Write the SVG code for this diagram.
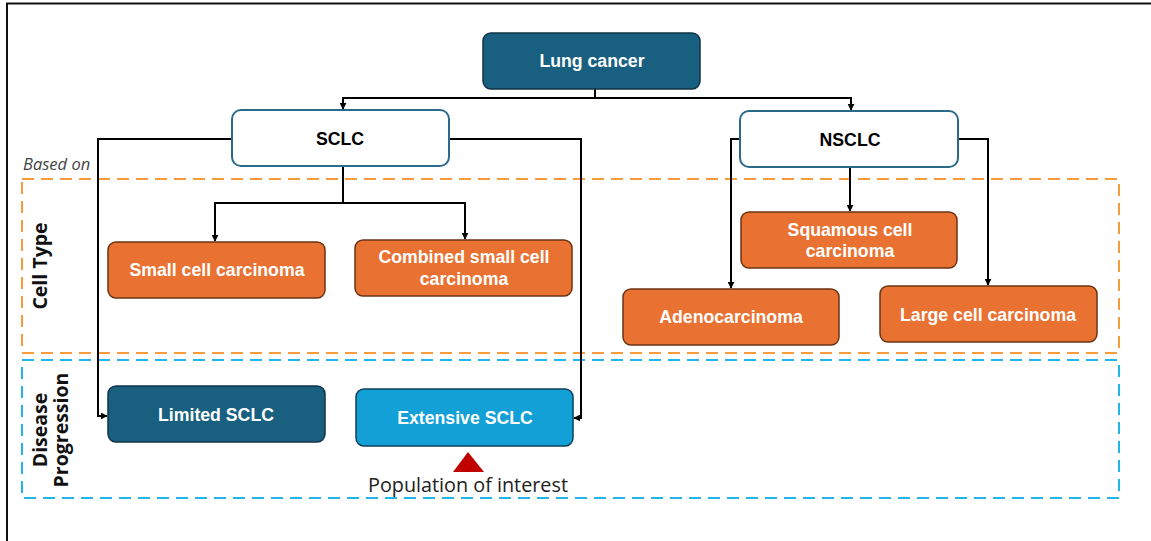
<svg xmlns="http://www.w3.org/2000/svg" width="1151" height="541" viewBox="0 0 1151 541">
  <defs>
    <marker id="arrow" viewBox="0 0 10 10" refX="9" refY="5" markerWidth="7" markerHeight="7" markerUnits="userSpaceOnUse" orient="auto">
      <path d="M0,0 L10,5 L0,10 z" fill="#000"/>
    </marker>
    <style>
      .frame { fill: none; stroke: #111; stroke-width: 2; }
      .band-orange { fill: none; stroke: #f79b3c; stroke-width: 2; stroke-dasharray: 12 7; }
      .band-blue { fill: none; stroke: #22b5ea; stroke-width: 2; stroke-dasharray: 12 7; }
      .dark { fill: #185f80; stroke: #0f3447; stroke-width: 1.5; }
      .outline { fill: #fff; stroke: #2c6a8c; stroke-width: 2; }
      .orange { fill: #e97233; stroke: #6a3414; stroke-width: 1.5; }
      .bright { fill: #12a0d7; stroke: #0c3f58; stroke-width: 1.5; }
      .lbl { font-family: "Liberation Sans", Arial, sans-serif; font-weight: bold; font-size: 17.7px; text-anchor: middle; }
      .w { fill: #fff; }
      .k { fill: #000; }
      .side { font-family: "Open Sans", "Noto Sans", sans-serif; font-weight: bold; font-size: 19.5px; fill: #111; text-anchor: middle; }
      .conn { fill: none; stroke: #000; stroke-width: 2; }
    </style>
  </defs>

  <rect width="1151" height="541" fill="#fff"/>
  <!-- outer frame -->
  <path class="frame" d="M7,545 V3.5 H1155"/>

  <!-- classification bands -->
  <rect class="band-orange" x="22" y="179" width="1097" height="174"/>
  <rect class="band-blue" x="22" y="360" width="1097" height="138"/>
  <text x="23" y="170" font-family="Open Sans, Noto Sans, sans-serif" font-style="italic" font-size="16.5" fill="#444">Based on</text>
  <text class="side" transform="translate(47,266) rotate(-90)">Cell Type</text>
  <text class="side" transform="translate(47,430) rotate(-90)">Disease</text>
  <text class="side" transform="translate(68,430) rotate(-90)">Progression</text>

  <!-- connectors -->
  <g id="connectors">
    <path class="conn" d="M595,89 V98 H343 V109" marker-end="url(#arrow)"/>
    <path class="conn" d="M595,98 H851 V110" marker-end="url(#arrow)"/>
    <path class="conn" d="M343,166 V203 H215 V241" marker-end="url(#arrow)"/>
    <path class="conn" d="M343,203 H465 V239" marker-end="url(#arrow)"/>
    <path class="conn" d="M232,139 H98 V416 H107" marker-end="url(#arrow)"/>
    <path class="conn" d="M449,139 H581 V418 H574" marker-end="url(#arrow)"/>
    <path class="conn" d="M850,167 V211" marker-end="url(#arrow)"/>
    <path class="conn" d="M740,139 H731 V288" marker-end="url(#arrow)"/>
    <path class="conn" d="M958,139 H988 V285" marker-end="url(#arrow)"/>
  </g>

  <!-- nodes -->
  <g id="lung-cancer">
    <rect class="dark" x="483" y="33" width="217" height="56" rx="8"/>
    <text class="lbl w" x="592" y="67">Lung cancer</text>
  </g>
  <g id="sclc">
    <rect class="outline" x="232" y="110" width="217" height="56" rx="9"/>
    <text class="lbl k" x="340" y="145">SCLC</text>
  </g>
  <g id="nsclc">
    <rect class="outline" x="740" y="111" width="218" height="56" rx="9"/>
    <text class="lbl k" x="850" y="146">NSCLC</text>
  </g>
  <g id="small-cell">
    <rect class="orange" x="108" y="242" width="217" height="56" rx="8"/>
    <text class="lbl w" x="217" y="276">Small cell carcinoma</text>
  </g>
  <g id="combined-small-cell">
    <rect class="orange" x="355" y="240" width="217" height="56" rx="8"/>
    <text class="lbl w" x="464" y="263">Combined small cell</text>
    <text class="lbl w" x="464" y="285">carcinoma</text>
  </g>
  <g id="squamous">
    <rect class="orange" x="741" y="212" width="216" height="56" rx="8"/>
    <text class="lbl w" x="850" y="236">Squamous cell</text>
    <text class="lbl w" x="850" y="257">carcinoma</text>
  </g>
  <g id="adenocarcinoma">
    <rect class="orange" x="623" y="289" width="216" height="56" rx="8"/>
    <text class="lbl w" x="731" y="323">Adenocarcinoma</text>
  </g>
  <g id="large-cell">
    <rect class="orange" x="880" y="286" width="217" height="56" rx="8"/>
    <text class="lbl w" x="988" y="321">Large cell carcinoma</text>
  </g>
  <g id="limited-sclc">
    <rect class="dark" x="108" y="386" width="217" height="56" rx="8"/>
    <text class="lbl w" x="216" y="421">Limited SCLC</text>
  </g>
  <g id="extensive-sclc">
    <rect class="bright" x="356" y="389" width="217" height="57" rx="8"/>
    <text class="lbl w" x="465" y="424">Extensive SCLC</text>
  </g>
  <g id="population-of-interest">
    <path d="M468,452 L484,472 L453,472 z" fill="#c00000"/>
    <text x="468" y="492" font-family="Open Sans, Noto Sans, sans-serif" font-size="19.8" fill="#222" text-anchor="middle">Population of interest</text>
  </g>
</svg>
